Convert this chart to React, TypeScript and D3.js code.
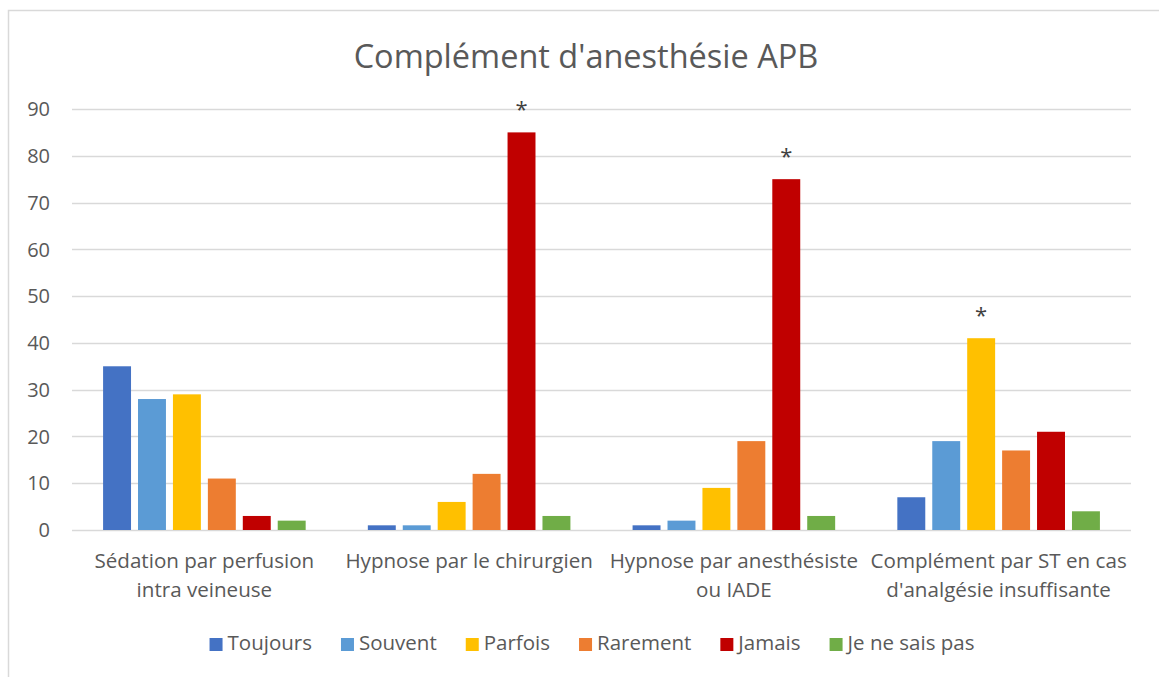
import React, { useEffect, useRef } from 'react'
import * as d3 from 'd3'

const categories = [
  'Sédation par perfusion|intra veineuse',
  'Hypnose par le chirurgien',
  'Hypnose par anesthésiste|ou IADE',
  'Complément par ST en cas|d\'analgésie insuffisante',
]
const seriesNames = ['Toujours', 'Souvent', 'Parfois', 'Rarement', 'Jamais', 'Je ne sais pas']
const seriesColors = ['#4472C4', '#5B9BD5', '#FFC000', '#ED7D31', '#C00000', '#70AD47']

// values per series, one entry per category
const toujours = [35, 1, 1, 7]
const souvent = [28, 1, 2, 19]
const parfois = [29, 6, 9, 41]
const rarement = [11, 12, 19, 17]
const jamais = [3, 85, 75, 21]
const jeNeSaisPas = [2, 3, 3, 4]

const yTicks = [0, 10, 20, 30, 40, 50, 60, 70, 80, 90]

// bars flagged with an asterisk: [category index, series index]
const starred: [number, number][] = [[1, 4], [2, 4], [3, 2]]

const title = "Complément d'anesthésie APB"

const W = 1159
const H = 677
const FONT = '"Open Sans", Lato, sans-serif'
const TEXT = '#595959'
const GRID = '#d9d9d9'

export default function App() {
  const svgRef = useRef<SVGSVGElement>(null)

  useEffect(() => {
    if (!svgRef.current) return
    const svg = d3.select(svgRef.current)
    svg.selectAll('*').remove()

    const values = [toujours, souvent, parfois, rarement, jamais, jeNeSaisPas]
    const margin = { left: 72, right: 28, top: 109, bottom: 147 }
    const plotBottom = H - margin.bottom

    svg.append('rect').attr('width', W).attr('height', H).attr('fill', '#fff')

    // chart frame (top + left edges visible)
    svg.append('path')
      .attr('d', `M8.5,${H} L8.5,10.5 L${W},10.5`)
      .attr('fill', 'none')
      .attr('stroke', GRID)
      .attr('stroke-width', 1.5)

    const y = d3.scaleLinear().domain([0, 90]).range([plotBottom, margin.top])
    const x0 = d3.scaleBand<number>()
      .domain(d3.range(categories.length))
      .range([margin.left, W - margin.right])
    const x1 = d3.scaleBand<number>()
      .domain(d3.range(seriesNames.length))
      .range([0, x0.bandwidth()])
      .paddingInner(0.2)
      .paddingOuter(0.89)

    // gridlines
    svg.append('g')
      .selectAll('line')
      .data(yTicks)
      .join('line')
      .attr('x1', margin.left)
      .attr('x2', W - margin.right)
      .attr('y1', d => Math.round(y(d)) + 0.5)
      .attr('y2', d => Math.round(y(d)) + 0.5)
      .attr('stroke', GRID)
      .attr('stroke-width', 1.3)

    // y tick labels
    svg.append('g')
      .selectAll('text')
      .data(yTicks)
      .join('text')
      .attr('x', 50)
      .attr('y', d => y(d))
      .attr('dy', '0.36em')
      .attr('text-anchor', 'end')
      .attr('font-family', FONT)
      .attr('font-size', 20)
      .attr('fill', TEXT)
      .text(d => d)

    // bars
    const groups = svg.append('g')
      .selectAll('g')
      .data(categories.map((_, ci) => ci))
      .join('g')
      .attr('transform', ci => `translate(${x0(ci)},0)`)

    groups.selectAll('rect')
      .data(ci => values.map((s, si) => ({ ci, si, v: s[ci] })))
      .join('rect')
      .attr('x', d => x1(d.si)!)
      .attr('y', d => y(d.v))
      .attr('width', x1.bandwidth())
      .attr('height', d => plotBottom - y(d.v))
      .attr('fill', d => seriesColors[d.si])

    // asterisks
    svg.append('g')
      .selectAll('text')
      .data(starred)
      .join('text')
      .attr('x', ([ci, si]) => x0(ci)! + x1(si)! + x1.bandwidth() / 2)
      .attr('y', ([ci, si]) => y(values[si][ci]) - 15)
      .attr('text-anchor', 'middle')
      .attr('font-family', FONT)
      .attr('font-size', 22)
      .attr('fill', '#404040')
      .text('*')

    // category labels
    const catLabels = svg.append('g')
      .selectAll('text')
      .data(categories.map((c, ci) => ({ c, ci })))
      .join('text')
      .attr('text-anchor', 'middle')
      .attr('font-family', FONT)
      .attr('font-size', 20.6)
      .attr('fill', TEXT)
    catLabels.selectAll('tspan')
      .data(d => d.c.split('|').map((line, li) => ({ line, li, ci: d.ci })))
      .join('tspan')
      .attr('x', d => x0(d.ci)! + x0.bandwidth() / 2)
      .attr('y', d => 568 + d.li * 29)
      .text(d => d.line)

    // title
    svg.append('text')
      .attr('x', 586)
      .attr('y', 68)
      .attr('text-anchor', 'middle')
      .attr('font-family', FONT)
      .attr('font-size', 32.5)
      .attr('fill', TEXT)
      .text(title)

    // legend
    const legend = svg.append('g')
    let cx = 0
    seriesNames.forEach((name, i) => {
      const item = legend.append('g').attr('transform', `translate(${cx},0)`)
      item.append('rect')
        .attr('x', 0).attr('y', -12)
        .attr('width', 13).attr('height', 13)
        .attr('fill', seriesColors[i])
      const t = item.append('text')
        .attr('x', 18)
        .attr('y', 0)
        .attr('font-family', FONT)
        .attr('font-size', 20.5)
        .attr('fill', TEXT)
        .text(name)
      const w = (t.node() as SVGTextElement).getComputedTextLength()
      cx += 18 + w + 29
    })
    const total = cx - 29
    legend.attr('transform', `translate(${592 - total / 2},650)`)
  }, [])

  return (
    <div style={{ position: 'fixed', left: 0, top: 0 }}>
      <svg ref={svgRef} width={W} height={H} style={{ display: 'block' }} />
    </div>
  )
}
